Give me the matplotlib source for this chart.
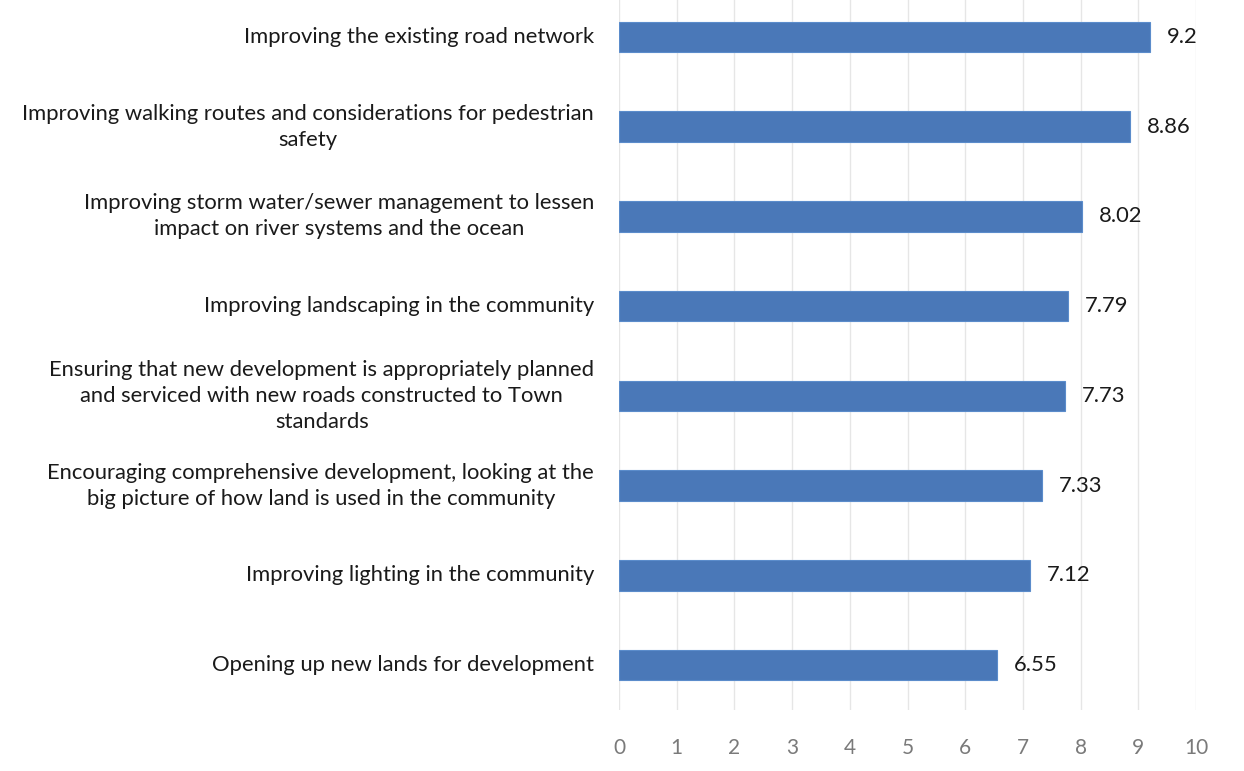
import matplotlib
matplotlib.use("Agg")
import matplotlib.pyplot as plt

categories = [
    "Improving the existing road network",
    "Improving walking routes and considerations for pedestrian\nsafety",
    "Improving storm water/sewer management to lessen\nimpact on river systems and the ocean",
    "Improving landscaping in the community",
    "Ensuring that new development is appropriately planned\nand serviced with new roads constructed to Town\nstandards",
    "Encouraging comprehensive development, looking at the\nbig picture of how land is used in the community",
    "Improving lighting in the community",
    "Opening up new lands for development",
]
values = [9.2, 8.86, 8.02, 7.79, 7.73, 7.33, 7.12, 6.55]
value_labels = ["9.2", "8.86", "8.02", "7.79", "7.73", "7.33", "7.12", "6.55"]
xticks = [0, 1, 2, 3, 4, 5, 6, 7, 8, 9, 10]

plt.rcParams["font.family"] = ["Lato", "DejaVu Sans"]

W, H = 1244, 771
fig = plt.figure(figsize=(W / 100, H / 100), dpi=100)
fig.patch.set_facecolor("white")

left, right, top, bottom = 619, 1196, 0, 710
ax = fig.add_axes([left / W, (H - bottom) / H, (right - left) / W, (bottom - top) / H])

ypos = list(range(len(categories)))
ax.barh(ypos, values, height=0.34, color="#4a78b8", edgecolor="#5b8ccb", linewidth=0.8, zorder=3)

for y, v, lab in zip(ypos, values, value_labels):
    ax.text(v + 0.29, y, lab, va="center", ha="left", fontsize=15.8, color="#1a1a1a")

for y, cat in zip(ypos, categories):
    ax.text(-0.43, y, cat, va="center", ha="right", multialignment="center",
            fontsize=15.8, color="#1a1a1a", transform=ax.transData, clip_on=False,
            linespacing=1.38)

ax.set_xlim(0, 10)
ax.set_ylim(7.5, -0.41)
ax.set_xticks(xticks)
ax.set_xticklabels([str(t) for t in xticks], fontsize=15, color="#7a7a7a")
ax.set_yticks([])
ax.tick_params(axis="x", length=0, pad=20)
ax.grid(axis="x", color="#e6e6e6", linewidth=1.0, zorder=0)
for s in ax.spines.values():
    s.set_visible(False)

fig.savefig("out.png", dpi=100, facecolor="white")
